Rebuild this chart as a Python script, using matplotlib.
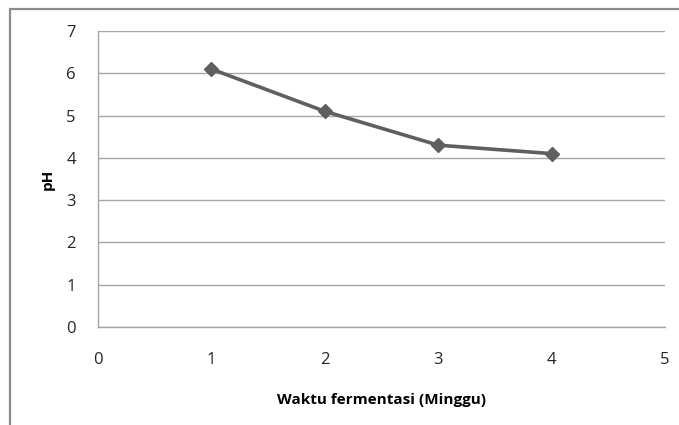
import matplotlib
matplotlib.use("Agg")
import matplotlib.pyplot as plt
from matplotlib.patches import Rectangle

plt.rcParams['font.family'] = ['Open Sans', 'DejaVu Sans']

# data
weeks = [1, 2, 3, 4]
ph_values = [6.1, 5.1, 4.3, 4.1]
x_ticks = [0, 1, 2, 3, 4, 5]
y_ticks = [0, 1, 2, 3, 4, 5, 6, 7]

fig = plt.figure(figsize=(6.79, 4.25), dpi=100)
ax = fig.add_axes([0.1443, 0.2306, 0.9794 - 0.1443, 0.9271 - 0.2306])

# grey frame around the chart (excel style)
frame = Rectangle((10 / 679, -0.1), 1.2, 1 - 9 / 425 + 0.1, transform=fig.transFigure,
                  fill=False, edgecolor="#8c8c8c", linewidth=1.6, clip_on=False)
fig.add_artist(frame)

ax.plot(weeks, ph_values, color="#5f5f5f", linewidth=2.6, marker="D",
        markersize=7, markerfacecolor="#5f5f5f", markeredgecolor="#5f5f5f", zorder=3)

ax.set_xlim(0, 5)
ax.set_ylim(0, 7)
ax.set_xticks(x_ticks)
ax.set_yticks(y_ticks)
ax.yaxis.grid(True, color="#a6a6a6", linewidth=1.0)
ax.set_axisbelow(True)

for s in ["top", "right"]:
    ax.spines[s].set_visible(False)
for s in ["left", "bottom"]:
    ax.spines[s].set_color("#a6a6a6")
    ax.spines[s].set_linewidth(1.0)

ax.tick_params(length=0, labelsize=12, labelcolor="#262626")
ax.tick_params(axis="y", pad=16)
ax.tick_params(axis="x", pad=18)

ax.set_xlabel("Waktu fermentasi (Minggu)", fontsize=11, fontweight="bold", labelpad=18)
ax.set_ylabel("pH", fontsize=11, fontweight="bold", labelpad=8)

fig.savefig("out.png", dpi=100)
